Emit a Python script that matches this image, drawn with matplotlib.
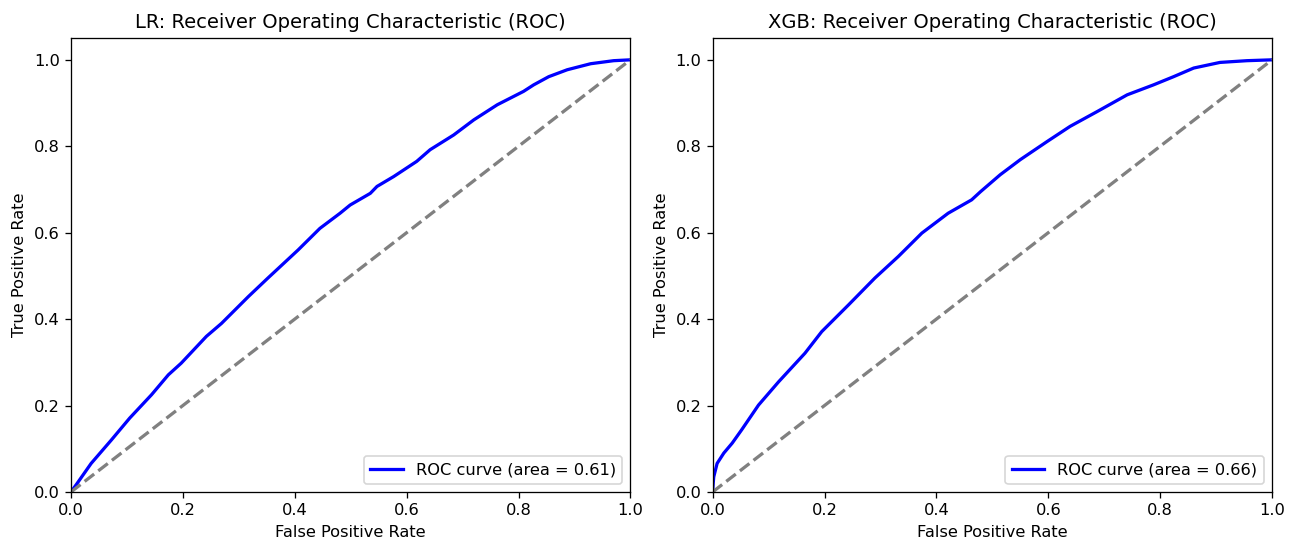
import matplotlib
matplotlib.use("Agg")
import matplotlib.pyplot as plt

# ROC points
lr_fpr = [0.0, 0.010, 0.036, 0.072, 0.105, 0.144, 0.174, 0.197, 0.242, 0.269,
          0.317, 0.352, 0.406, 0.445, 0.481, 0.499, 0.535, 0.547, 0.577, 0.618,
          0.642, 0.684, 0.720, 0.762, 0.809, 0.827, 0.854, 0.887, 0.929, 0.970, 1.0]
lr_tpr = [0.0, 0.018, 0.066, 0.120, 0.171, 0.225, 0.271, 0.298, 0.360, 0.390,
          0.452, 0.495, 0.560, 0.610, 0.645, 0.664, 0.691, 0.707, 0.730, 0.765,
          0.792, 0.826, 0.861, 0.896, 0.927, 0.942, 0.961, 0.977, 0.991, 0.998, 1.0]
lr_auc = 0.61

xgb_fpr = [0.0, 0.001, 0.002, 0.008, 0.020, 0.035, 0.052, 0.082, 0.118, 0.165,
           0.195, 0.243, 0.290, 0.332, 0.374, 0.421, 0.463, 0.479, 0.514, 0.550,
           0.598, 0.639, 0.687, 0.741, 0.788, 0.824, 0.860, 0.907, 0.955, 1.0]
xgb_tpr = [0.0, 0.020, 0.035, 0.066, 0.090, 0.113, 0.144, 0.201, 0.255, 0.321,
           0.371, 0.433, 0.495, 0.545, 0.599, 0.645, 0.676, 0.695, 0.734, 0.769,
           0.811, 0.846, 0.880, 0.919, 0.942, 0.961, 0.981, 0.994, 0.998, 1.0]
xgb_auc = 0.66

models = [("LR", lr_fpr, lr_tpr, lr_auc), ("XGB", xgb_fpr, xgb_tpr, xgb_auc)]

dpi = 117
fig, axes = plt.subplots(1, 2, figsize=(1298 / dpi, 546 / dpi), dpi=dpi)
fig.subplots_adjust(left=0.0547, right=0.98, bottom=0.099, top=0.930, wspace=0.147)

for ax, (name, fpr, tpr, auc) in zip(axes, models):
    ax.plot(fpr, tpr, color="blue", lw=2, label=f"ROC curve (area = {auc:.2f})")
    ax.plot([0, 1], [0, 1], color="gray", lw=2, linestyle="--")
    ax.set_xlim([0.0, 1.0])
    ax.set_ylim([0.0, 1.05])
    ax.set_xlabel("False Positive Rate")
    ax.set_ylabel("True Positive Rate")
    ax.set_title(f"{name}: Receiver Operating Characteristic (ROC)")
    ax.legend(loc="lower right")

fig.savefig("out.png", dpi=dpi)
